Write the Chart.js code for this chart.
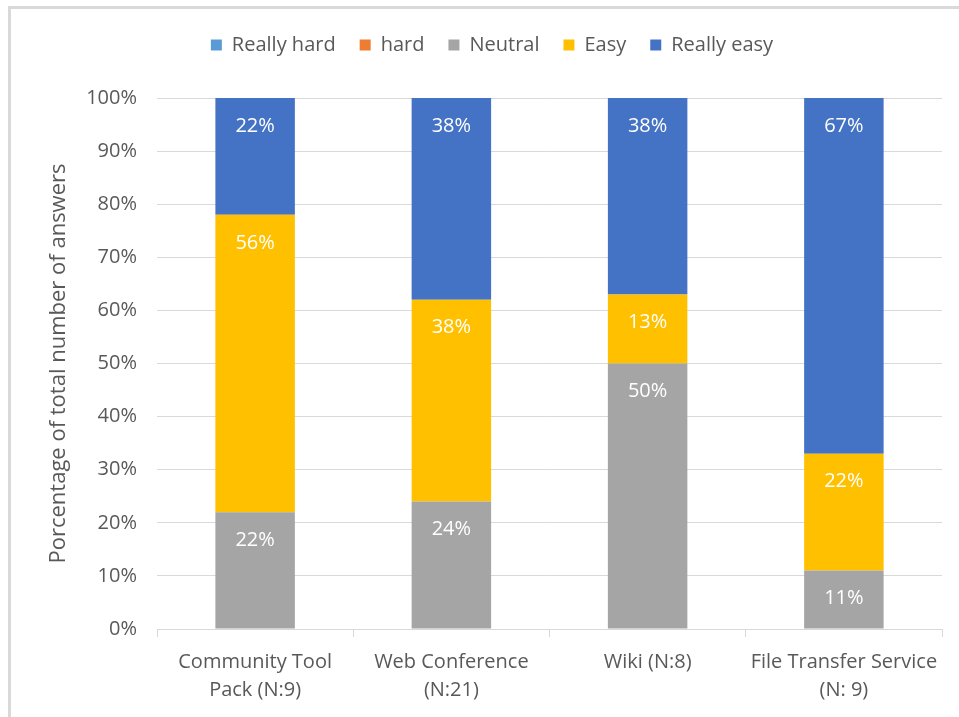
<!DOCTYPE html>
<html>
<head>
<meta charset="utf-8">
<title>Ease of use</title>
<script src="https://cdn.jsdelivr.net/npm/chart.js@4.4.1/dist/chart.umd.min.js"></script>
<style>
    html, body { margin: 0; padding: 0; background: #fff; }
    #wrap { position: relative; width: 959px; height: 717px; }
    #frame {
        position: absolute; left: 8px; top: 6px; right: -4px; bottom: -4px;
        border-left: 3px solid #d9d9d9; border-top: 3px solid #d9d9d9;
        pointer-events: none;
    }
    canvas { position: absolute; left: 0; top: 0; }
</style>
</head>
<body>
<div id="wrap">
    <canvas id="easeChart" width="959" height="717"></canvas>
    <div id="frame"></div>
</div>
<script>
const tools = [
    ['Community Tool', 'Pack (N:9)'],
    ['Web Conference', '(N:21)'],
    'Wiki (N:8)',
    ['File Transfer Service', '(N: 9)']
];

// share of answers per tool, in %
const reallyHard = [0, 0, 0, 0];
const hard = [0, 0, 0, 0];
const neutral = [22, 24, 50, 11];
const easy = [56, 38, 13, 22];
const reallyEasy = [22, 38, 38, 67];

const yTicks = [0, 10, 20, 30, 40, 50, 60, 70, 80, 90, 100];

const textColor = '#595959';
const gridColor = '#d9d9d9';
const fontFamily = "'Open Sans', 'Noto Sans', sans-serif";

// more room between the legend and the plot
const legendMargin = {
    id: 'legendMargin',
    beforeInit(chart) {
        const fitValue = chart.legend.fit;
        chart.legend.fit = function fit() {
            fitValue.bind(chart.legend)();
            this.height += 33;
        };
    }
};

// white percent labels near the top of each segment
const segmentLabels = {
    id: 'segmentLabels',
    afterDatasetsDraw(chart) {
        const ctx = chart.ctx;
        const area = chart.chartArea;
        ctx.save();
        ctx.font = '20px ' + fontFamily;
        ctx.fillStyle = '#ffffff';
        ctx.textAlign = 'center';
        ctx.textBaseline = 'middle';
        chart.data.datasets.forEach((ds, i) => {
            const meta = chart.getDatasetMeta(i);
            meta.data.forEach((bar, j) => {
                const v = ds.data[j];
                if (!v) return;
                const top = Math.max(bar.y, area.top);
                ctx.fillText(v + '%', bar.x, top + 28);
            });
        });
        ctx.restore();
    }
};

const ctx = document.getElementById('easeChart').getContext('2d');

new Chart(ctx, {
    type: 'bar',
    data: {
        labels: tools,
        datasets: [
            { label: 'Really hard', data: reallyHard, backgroundColor: '#5b9bd5' },
            { label: 'hard', data: hard, backgroundColor: '#ed7d31' },
            { label: 'Neutral', data: neutral, backgroundColor: '#a5a5a5' },
            { label: 'Easy', data: easy, backgroundColor: '#ffc000' },
            { label: 'Really easy', data: reallyEasy, backgroundColor: '#4472c4' }
        ]
    },
    options: {
        responsive: false,
        animation: false,
        datasets: {
            bar: { categoryPercentage: 0.405, barPercentage: 1 }
        },
        layout: {
            padding: { top: 11, left: 42, right: 17, bottom: 0 }
        },
        plugins: {
            legend: {
                position: 'top',
                labels: {
                    boxWidth: 11,
                    boxHeight: 11,
                    padding: 24,
                    color: textColor,
                    font: { family: fontFamily, size: 20 }
                }
            },
            tooltip: { enabled: false }
        },
        scales: {
            x: {
                stacked: true,
                afterFit(scale) { scale.height = 88; },
                grid: {
                    offset: true,
                    drawOnChartArea: false,
                    tickLength: 8,
                    color: gridColor
                },
                border: { display: true, color: gridColor },
                ticks: {
                    padding: 11,
                    color: textColor,
                    font: { family: fontFamily, size: 20, lineHeight: 1.4 }
                }
            },
            y: {
                stacked: true,
                min: 0,
                max: 100,
                afterFit(scale) { scale.width = 115; },
                afterBuildTicks(scale) {
                    scale.ticks = yTicks.map(v => ({ value: v }));
                },
                grid: { color: gridColor, drawTicks: false },
                border: { display: false },
                ticks: {
                    padding: 20,
                    color: textColor,
                    font: { family: fontFamily, size: 20 },
                    callback: v => v + '%'
                },
                title: {
                    display: true,
                    text: 'Porcentage of total number of answers',
                    color: textColor,
                    font: { family: fontFamily, size: 22 }
                }
            }
        }
    },
    plugins: [legendMargin, segmentLabels]
});
</script>
</body>
</html>
